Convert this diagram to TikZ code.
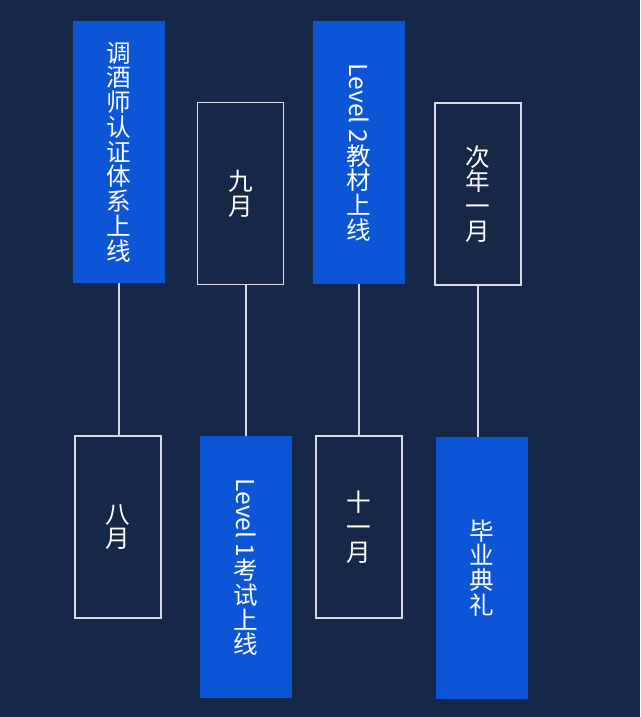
\documentclass[tikz,border=0pt]{standalone}
\usepackage{fontspec}
\newfontfamily\cjk{Noto Sans CJK SC}
\usepackage{graphicx}
\usepackage{tikz}
\usetikzlibrary{positioning,calc}

\definecolor{navybg}{RGB}{21,40,72}
\definecolor{tagblue}{RGB}{12,85,214}
\definecolor{framegray}{RGB}{214,218,226}

\begin{document}
\begin{tikzpicture}[
  x=0.025cm, y=-0.025cm,
  every node/.style={font=\cjk\fontsize{17.5pt}{17.6pt}\selectfont, text=white, align=center},
  blk/.style ={fill=tagblue, minimum width=2.3cm, minimum height=6.55cm, inner sep=0pt},
  frm/.style ={draw=framegray, line width=0.9pt, minimum width=2.15cm,
               minimum height=4.55cm, inner sep=0pt},
  link/.style={draw=framegray, line width=1.2pt}]

%% Canvas
\fill[navybg] (0,0) rectangle (640,717);
\useasboundingbox (0,0) rectangle (640,717);

%% Top row
\node[blk] (cert)  at (119,152)     {调\\酒\\师\\认\\证\\体\\系\\上\\线};
\node[frm] (sept)  at (240.5,193.5) {九\\月};
\node[blk] (book)  at (359,152.5)   {\rotatebox{-90}{Level 2}\\教\\材\\上\\线};
\node[frm] (jan)   at (478,194)     {次\\年\\一\\月};

%% Bottom row
\node[frm] (aug)   at (118,527)     {八\\月};
\node[blk] (exam)  at (246,567)     {\rotatebox{-90}{Level 1}\\考\\试\\上\\线};
\node[frm] (nov)   at (359,527)     {十\\一\\月};
\node[blk] (grad)  at (482,568)     {毕\\业\\典\\礼};

%% Stems between the rows
\draw[link] (cert.south) -- (cert.south |- aug.north);
\draw[link] (exam.north) -- (exam.north |- sept.south);
\draw[link] (book.south) -- (book.south |- nov.north);
\draw[link] (jan.south) -- (jan.south |- grad.north);
\end{tikzpicture}
\end{document}
